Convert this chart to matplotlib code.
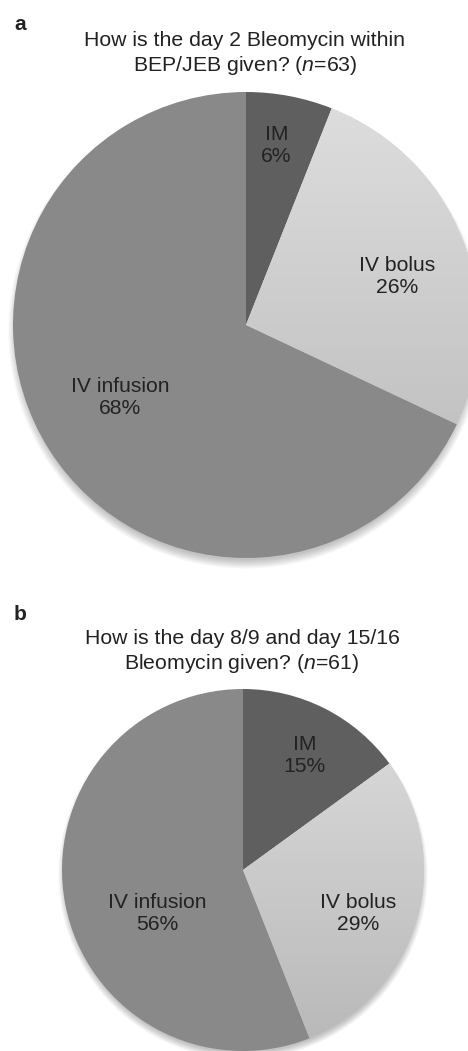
import numpy as np
import matplotlib
matplotlib.use('Agg')
import matplotlib.pyplot as plt
from matplotlib.patches import Circle

plt.rcParams['font.family'] = ['Liberation Sans', 'DejaVu Sans']
plt.rcParams['mathtext.fontset'] = 'custom'
plt.rcParams['mathtext.rm'] = 'Liberation Sans'
plt.rcParams['mathtext.it'] = 'Liberation Sans:italic'

# data
routes = ['IM', 'IV bolus', 'IV infusion']
day2_pct = [6, 26, 68]
day8_pct = [15, 29, 56]

title_a = 'How is the day 2 Bleomycin within\nBEP/JEB given? ($n$=63)'
title_b = 'How is the day 8/9 and day 15/16\nBleomycin given? ($n$=61)'

colors = ['#5f5f5f', '#d4d4d4', '#898989']
text_color = '#222222'

# label positions in units of pie radius
label_pos_a = [(0.13, 0.77), (0.65, 0.21), (-0.54, -0.31)]
label_pos_b = [(0.34, 0.63), (0.635, -0.243), (-0.475, -0.243)]


def draw_pie(ax, values, label_pos):
    ax.set_xlim(-1, 1)
    ax.set_ylim(-1, 1)
    ax.set_aspect('equal')
    ax.axis('off')

    # soft drop shadow, mostly below the pie
    for i in range(8):
        ax.add_patch(Circle((0, -0.025), 0.985 + 0.005 * i, color='black',
                            alpha=0.03, lw=0, zorder=0, clip_on=False))

    wedges, _ = ax.pie(values, colors=colors, startangle=90, counterclock=False,
                       radius=1, wedgeprops=dict(linewidth=0))
    for w in wedges:
        w.set_zorder(1)
        w.set_clip_on(False)

    # vertical gradient on the light wedge (light at top, darker at bottom)
    grad = np.linspace(0, 1, 256).reshape(-1, 1)
    cmap = matplotlib.colors.LinearSegmentedColormap.from_list('g', ['#dedede', '#b8b8b8'])
    im = ax.imshow(grad, extent=(-1, 1, -1, 1), cmap=cmap, aspect='auto', zorder=2,
                   origin='upper')
    im.set_clip_path(wedges[1])
    ax.set_xlim(-1, 1)
    ax.set_ylim(-1, 1)

    for name, pct, (x, y) in zip(routes, values, label_pos):
        ax.text(x, y, f'{name}\n{pct}%', ha='center', va='center', fontsize=15.2,
                color=text_color, linespacing=1.2, zorder=3)


fig = plt.figure(figsize=(4.68, 10.51), dpi=100)

ax_a = fig.add_axes([13 / 468, 1 - 558 / 1051, 466 / 468, 466 / 1051])
draw_pie(ax_a, day2_pct, label_pos_a)

ax_b = fig.add_axes([62 / 468, 0.0, 362 / 468, 362 / 1051])
draw_pie(ax_b, day8_pct, label_pos_b)

fig.text(20 / 468, 1 - 25 / 1051, 'a', fontsize=15, fontweight='bold', ha='center', va='center',
         color=text_color)
fig.text(245 / 468, 1 - 54 / 1051, title_a, fontsize=15.3, ha='center', va='center',
         color=text_color, linespacing=1.2)

fig.text(20 / 468, 1 - 615 / 1051, 'b', fontsize=15, fontweight='bold', ha='center', va='center',
         color=text_color)
fig.text(242 / 468, 1 - 652 / 1051, title_b, fontsize=15.3, ha='center', va='center',
         color=text_color, linespacing=1.2)

fig.savefig('out.png', dpi=100, facecolor='white')
